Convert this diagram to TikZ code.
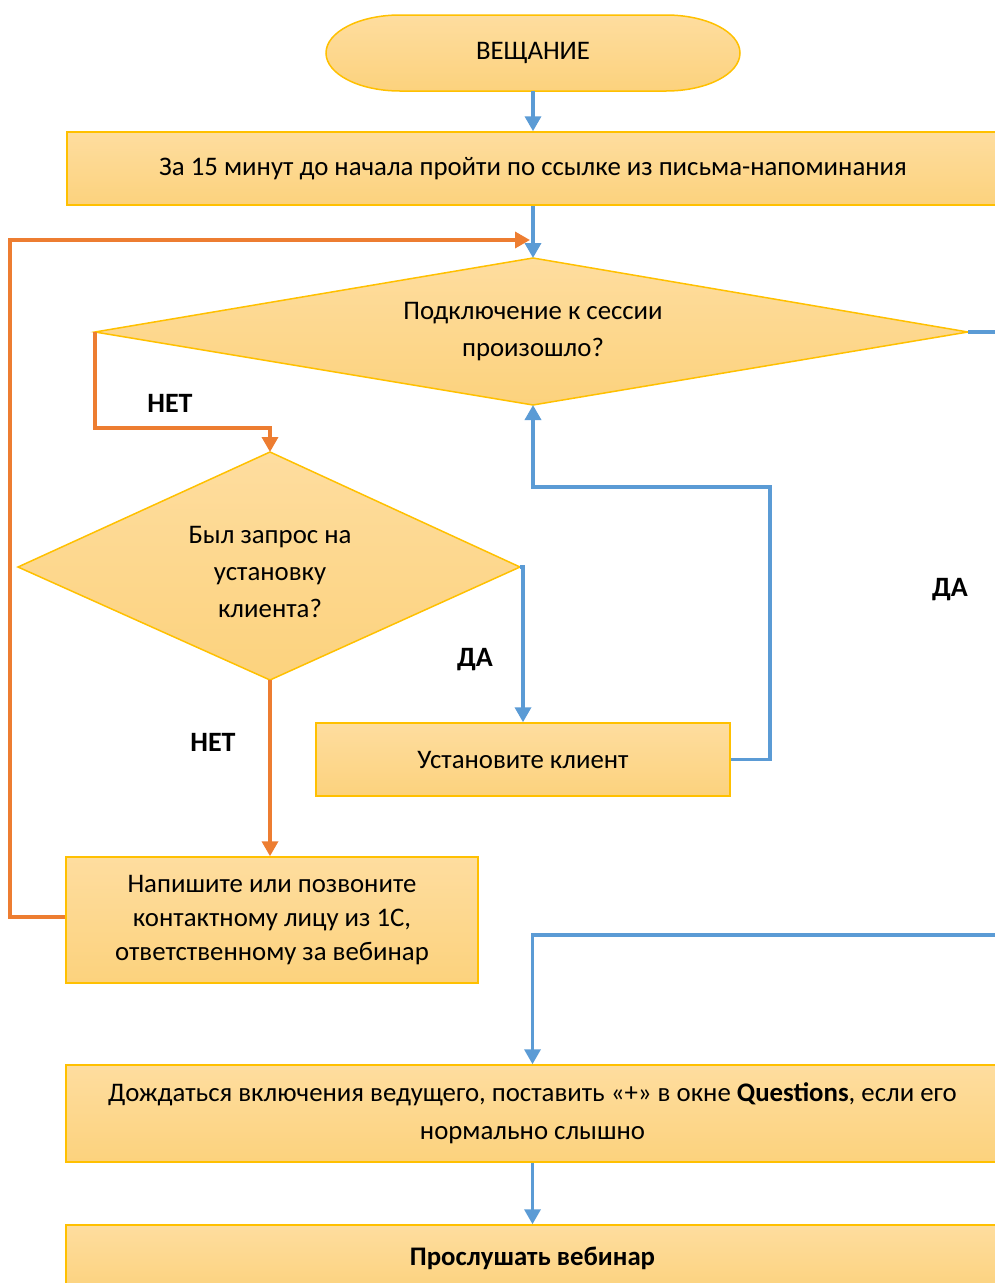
\documentclass[tikz,border=0pt]{standalone}
\usepackage{fontspec}
\setmainfont{Carlito}
\usetikzlibrary{arrows.meta,calc}
\definecolor{bfilltop}{HTML}{FEDD9F}
\definecolor{bfillbot}{HTML}{FCD27D}
\definecolor{bdr}{HTML}{FFC000}
\definecolor{lblue}{HTML}{5B9BD5}
\definecolor{lorange}{HTML}{ED7D31}
\tikzset{
  boxst/.style={draw=bdr, line width=1.5pt, top color=bfilltop, bottom color=bfillbot},
  procbox/.style={boxst, rectangle, inner sep=0pt, align=center, font=\fontsize{26.8}{37}\selectfont},
  txt/.style={align=center, inner sep=0pt, font=\fontsize{26.8}{37}\selectfont},
  blueline/.style={draw=lblue, line width=3.5pt},
  bluearrow/.style={blueline, -{Triangle[length=15pt,width=16pt]}},
  orangeline/.style={draw=lorange, line width=3.5pt},
  orangearrow/.style={orangeline, -{Triangle[length=15pt,width=16pt]}},
  lbl/.style={inner sep=0pt, font=\fontsize{28}{30}\selectfont\bfseries}
}
\begin{document}
\begin{tikzpicture}[x=1pt,y=-1pt]
\useasboundingbox (0,0) rectangle (995,1283);
\clip (0,0) rectangle (995,1283);
% terminator
\path[boxst] (400,15) -- (666,15) arc[start angle=-90,end angle=90,x radius=74,y radius=38]
  -- (400,91) arc[start angle=90,end angle=270,x radius=74,y radius=38] -- cycle;
\node[txt, minimum width=413, minimum height=76] (t) at (533,53) {ВЕЩАНИЕ};
% box 1
\node[procbox, minimum width=932, minimum height=73] (b1) at (533,168.5) {За 15 минут до начала пройти по ссылке из письма-напоминания};
% diamond 1
\coordinate (d1t) at (533,258);
\coordinate (d1r) at (968,332);
\coordinate (d1b) at (533,405);
\coordinate (d1l) at (95,332);
\path[boxst] (d1t) -- (d1r) -- (d1b) -- (d1l) -- cycle;
\node[txt] (d1) at (533,332) {Подключение к сессии\\произошло?};
% diamond 2
\coordinate (d2t) at (270,452);
\coordinate (d2r) at (520,567);
\coordinate (d2b) at (270,680);
\coordinate (d2l) at (18,567);
\path[boxst] (d2t) -- (d2r) -- (d2b) -- (d2l) -- cycle;
\node[txt] (d2) at (270,572) {Был запрос на\\установку\\клиента?};
% boxes
\node[procbox, minimum width=414, minimum height=73] (b2) at (523,759.5) {Установите клиент};
\node[procbox, minimum width=412, minimum height=126, font=\fontsize{26.8}{34}\selectfont] (b3) at (272,920) {Напишите или позвоните\\контактному лицу из 1С,\\ответственному за вебинар};
\node[procbox, minimum width=933, minimum height=97, font=\fontsize{26.8}{38}\selectfont] (b4) at (532.5,1113.5) {Дождаться включения ведущего, поставить «+» в окне \textbf{Questions}, если его\\нормально слышно};
\node[procbox, minimum width=933, minimum height=67] (b5) at (532.5,1258.5) {\textbf{Прослушать вебинар}};
% connectors
\draw[bluearrow] (t.south) -- (b1.north);
\draw[bluearrow] (b1.south) -- (d1t);
\coordinate (c3) at (530,240);
\draw[orangearrow] (b3.west |- 0,917) -- (10,917) |- (c3);
\coordinate (c2) at (270,428);
\draw[orangearrow] (d1l) |- (c2) -- (d2t);
\draw[bluearrow] (d2r) -| (b2.north);
\coordinate (c1) at (770,487);
\draw[bluearrow] (b2.east) -| (c1) -| (d1b);
\draw[orangearrow] (d2b) -- (d2b |- b3.north);
\coordinate (r1) at (1002,332);
\draw[blueline] (d1r) -- (r1);
\coordinate (r2) at (1002,935);
\draw[bluearrow] (r2) -| (b4.north);
\draw[bluearrow] (b4.south) -- (b5.north);
% labels
\node[lbl] (l1) at (170,403) {НЕТ};
\node[lbl] (l2) at (475,660) {ДА};
\node[lbl] (l3) at (213,742) {НЕТ};
\node[lbl] (l4) at (950,590) {ДА};
\end{tikzpicture}
\end{document}
